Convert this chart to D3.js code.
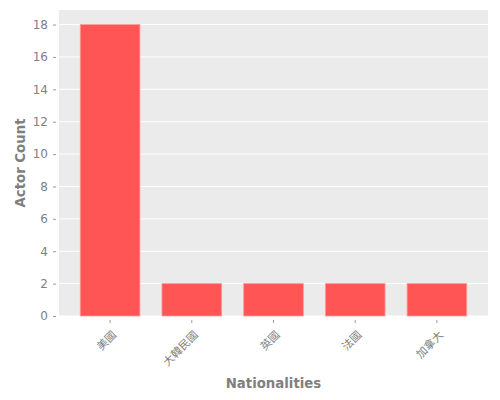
<!DOCTYPE html>
<html>
<head>
<meta charset="utf-8">
<script src="https://cdn.jsdelivr.net/npm/d3@7"></script>
<style>
  body { margin: 0; background: #fff; }
  text { font-family: "DejaVu Sans", "Noto Sans CJK TC", sans-serif; }
</style>
</head>
<body>
<div id="chart"></div>
<script>
const nationalities = ['美國', '大韓民國', '英國', '法國', '加拿大'];
const actorCounts = [18, 2, 2, 2, 2];
const yTicks = [0, 2, 4, 6, 8, 10, 12, 14, 16, 18];

const width = 500;
const height = 400;
const panel = { left: 59, right: 488, top: 10, bottom: 316 };

const svg = d3.select('#chart')
  .append('svg')
  .attr('width', width)
  .attr('height', height);

const x = d3.scaleBand()
  .domain(nationalities)
  .range([panel.left, panel.right])
  .paddingInner(0.27)
  .paddingOuter(0.26);

const y = d3.scaleLinear()
  .domain([0, d3.max(actorCounts) * 1.05])
  .range([panel.bottom, panel.top]);

// grey panel background
svg.append('rect')
  .attr('x', panel.left)
  .attr('y', panel.top)
  .attr('width', panel.right - panel.left)
  .attr('height', panel.bottom - panel.top)
  .attr('fill', '#ebebeb');

// horizontal grid lines
svg.append('g')
  .selectAll('line')
  .data(yTicks)
  .enter().append('line')
  .attr('x1', panel.left)
  .attr('x2', panel.right)
  .attr('y1', d => y(d))
  .attr('y2', d => y(d))
  .attr('stroke', '#fff')
  .attr('stroke-width', 1);

// bars
svg.append('g')
  .selectAll('rect')
  .data(nationalities)
  .enter().append('rect')
  .attr('x', d => x(d))
  .attr('y', (d, i) => y(actorCounts[i]))
  .attr('width', x.bandwidth())
  .attr('height', (d, i) => y(0) - y(actorCounts[i]))
  .attr('fill', '#ff5555')
  .attr('stroke', '#ff9a9a')
  .attr('stroke-width', 0.8);

// y axis (ticks sit a little away from the panel)
const yAxis = svg.append('g')
  .attr('transform', `translate(${panel.left - 3},0)`)
  .call(d3.axisLeft(y).tickValues(yTicks).tickSize(3).tickPadding(5));
yAxis.select('.domain').remove();
yAxis.selectAll('.tick line').attr('stroke', '#999');
yAxis.selectAll('.tick text')
  .attr('fill', '#7f7f7f')
  .style('font-size', '12px');

// x axis
const xAxis = svg.append('g')
  .attr('transform', `translate(0,${panel.bottom + 4})`)
  .call(d3.axisBottom(x).tickSize(3).tickPadding(4));
xAxis.select('.domain').remove();
xAxis.selectAll('.tick line').attr('stroke', '#999');
xAxis.selectAll('.tick text')
  .attr('fill', '#7f7f7f')
  .style('font-size', '11px')
  .style('text-anchor', 'end')
  .attr('x', -6)
  .attr('y', 16)
  .attr('dy', 0)
  .attr('transform', 'rotate(-45)');

// axis titles
svg.append('text')
  .attr('x', (panel.left + panel.right) / 2)
  .attr('y', 388)
  .attr('text-anchor', 'middle')
  .attr('fill', '#7f7f7f')
  .style('font-size', '13.3px')
  .style('font-weight', 'bold')
  .text('Nationalities');

svg.append('text')
  .attr('transform', `translate(25,${(panel.top + panel.bottom) / 2}) rotate(-90)`)
  .attr('text-anchor', 'middle')
  .attr('fill', '#7f7f7f')
  .style('font-size', '13.3px')
  .style('font-weight', 'bold')
  .text('Actor Count');
</script>
</body>
</html>
